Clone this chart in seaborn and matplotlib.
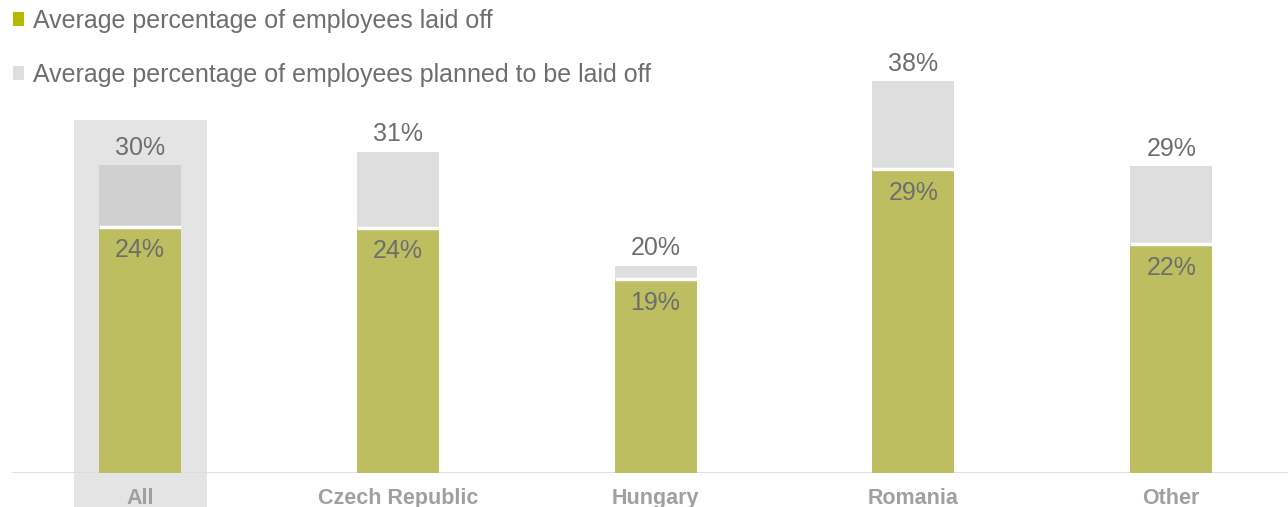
import matplotlib
matplotlib.use("Agg")
import matplotlib.pyplot as plt
import seaborn as sns
import pandas as pd
from matplotlib.patches import Patch, Rectangle

# data (bar heights estimated, labels as printed)
regions = ["All", "Czech Republic", "Hungary", "Romania", "Other"]
laid_off = [24.0, 23.9, 18.9, 29.6, 22.3]
planned = [30.0, 31.3, 20.2, 38.2, 29.9]
laid_off_labels = ["24%", "24%", "19%", "29%", "22%"]
planned_labels = ["30%", "31%", "20%", "38%", "29%"]

green = "#BCBE5F"
light_gray = "#DEDEDE"
all_gray = "#D0D0D0"
text_gray = "#6E6E6E"

sns.set_theme(style="white")
plt.rcParams['font.family'] = ['Liberation Sans', 'DejaVu Sans']

df = pd.DataFrame({"region": regions, "laid_off": laid_off, "planned": planned})

fig = plt.figure(figsize=(12.88, 5.07), dpi=100)
ax = fig.add_axes([12 / 1288, 34 / 507, 1276 / 1288, 473 / 507])

# highlight behind "All"
ax.add_patch(Rectangle((-0.255, -3.4), 0.515, 37.8, facecolor="#E4E4E4",
                       edgecolor="none", zorder=0, clip_on=False))

top_colors = {r: (all_gray if r == "All" else light_gray) for r in regions}
sns.barplot(data=df, x="region", y="planned", hue="region", palette=top_colors,
            width=0.318, legend=False, ax=ax, zorder=2, saturation=1,
            edgecolor="none", linewidth=0)
sns.barplot(data=df, x="region", y="laid_off", color=green, width=0.318,
            ax=ax, zorder=3, saturation=1, edgecolor="none", linewidth=0)

# white divider between segments
ax.hlines(laid_off, [i - 0.159 for i in range(len(regions))],
          [i + 0.159 for i in range(len(regions))], colors="white",
          linewidth=2.5, zorder=4)

for i in range(len(regions)):
    ax.text(i, planned[i] + 1.7, planned_labels[i], ha="center", va="center",
            fontsize=18, color=text_gray, zorder=5)
    ax.text(i, laid_off[i] - 2.3, laid_off_labels[i], ha="center", va="center",
            fontsize=18, color=text_gray, zorder=5)

ax.axhline(0, color="#DCDCDC", linewidth=1.2, zorder=1)
ax.set_xlim(-0.496, 4.453)
ax.set_ylim(0, 46.1)
ax.set_xlabel("")
ax.set_ylabel("")
ax.set_yticks([])
sns.despine(ax=ax, left=True, bottom=True)
ax.tick_params(axis="x", length=0, pad=11, labelsize=15.5, labelcolor="#A0A0A0")
for lab in ax.get_xticklabels():
    lab.set_fontweight("bold")

handles = [Patch(facecolor="#B5BA00", edgecolor="none"),
           Patch(facecolor=light_gray, edgecolor="none")]
fig.legend(handles, ["Average percentage of employees laid off",
                     "Average percentage of employees planned to be laid off"],
           loc="upper left", bbox_to_anchor=(13 / 1288, 1 - 9 / 507),
           frameon=False, fontsize=18, labelcolor=text_gray, borderpad=0,
           borderaxespad=0, handlelength=0.45, handleheight=0.45,
           handletextpad=0.35, labelspacing=1.2)

fig.savefig("out.png", dpi=100)
